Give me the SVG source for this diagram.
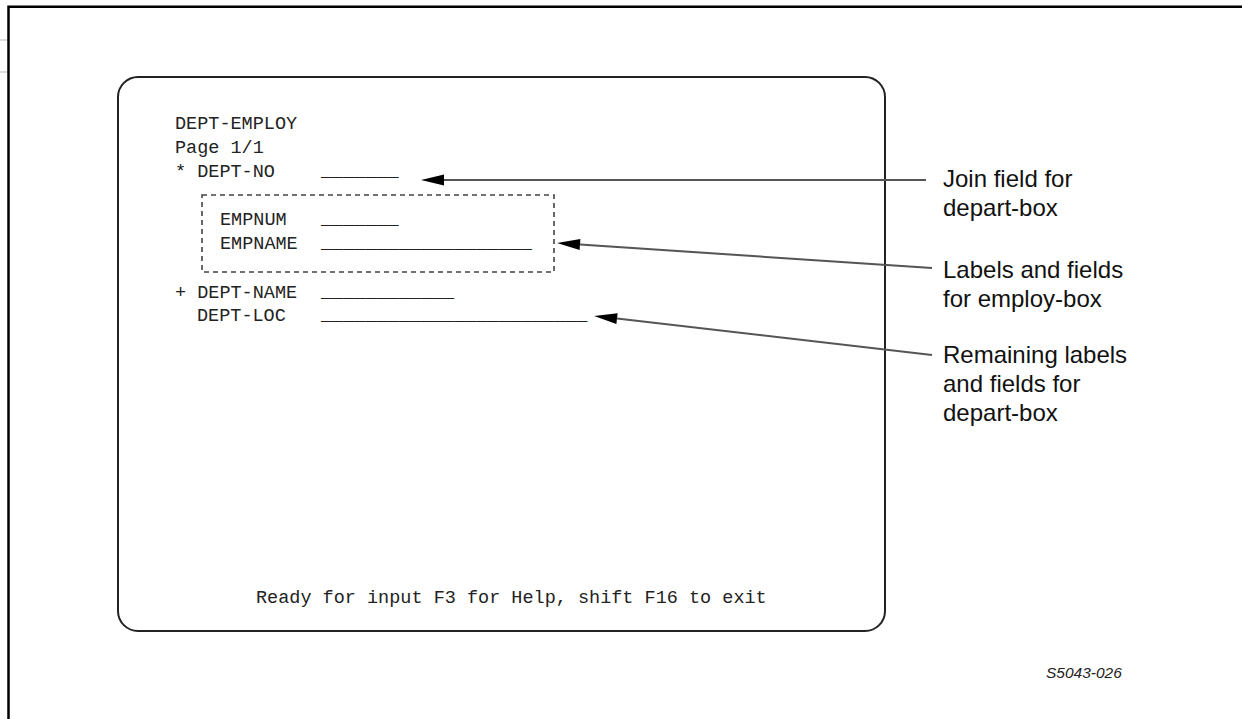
<svg xmlns="http://www.w3.org/2000/svg" width="1242" height="719" viewBox="0 0 1242 719">
  <style>
    .mono { font-family: "Liberation Mono", "DejaVu Sans Mono", monospace; font-size: 18.5px; fill: #222; }
    .note { font-family: "Liberation Sans", Arial, sans-serif; font-size: 24px; fill: #111; }
    .fig  { font-family: "Liberation Sans", Arial, sans-serif; font-size: 15.5px; font-style: italic; fill: #222; }
    .frame { stroke: #000; stroke-width: 2.5; fill: none; }
    .screen { stroke: #222; stroke-width: 2; fill: none; }
    .group-box { stroke: #444; stroke-width: 1.6; fill: none; stroke-dasharray: 5 4; }
    .leader { stroke: #555; stroke-width: 2; fill: none; marker-end: url(#head); }
  </style>
  <defs>
    <marker id="head" markerUnits="userSpaceOnUse" markerWidth="24" markerHeight="12" refX="0" refY="6" orient="auto" overflow="visible">
      <path d="M0,0.5 L23,6 L0,11.5 Z" fill="#000"/>
    </marker>
  </defs>

  <rect width="1242" height="719" fill="#fff"/>

  <!-- page frame -->
  <g id="page-frame">
    <path class="frame" d="M8.5,719 V6.7 H1242"/>
    <line x1="0" y1="40" x2="7" y2="40" stroke="#bbb" stroke-width="1"/>
    <line x1="0" y1="72" x2="7" y2="72" stroke="#bbb" stroke-width="1"/>
  </g>

  <!-- terminal screen -->
  <g id="screen">
    <rect class="screen" x="118" y="77" width="767" height="554" rx="20" ry="20"/>
    <text class="mono" x="175" y="129">DEPT-EMPLOY</text>
    <text class="mono" x="175" y="153">Page 1/1</text>
    <text class="mono" x="256" y="603">Ready for input F3 for Help, shift F16 to exit</text>
  </g>

  <!-- depart-box join field -->
  <g id="join-field">
    <text class="mono" x="175" y="177">* DEPT-NO</text>
    <text class="mono" x="321" y="175.5">_______</text>
  </g>

  <!-- employ-box group -->
  <g id="employ-box">
    <rect class="group-box" x="202" y="195" width="352" height="77"/>
    <text class="mono" x="220" y="225">EMPNUM</text>
    <text class="mono" x="321" y="223.5">_______</text>
    <text class="mono" x="220" y="249">EMPNAME</text>
    <text class="mono" x="321" y="247.5">___________________</text>
  </g>

  <!-- remaining depart-box fields -->
  <g id="depart-fields">
    <text class="mono" x="175" y="298">+ DEPT-NAME</text>
    <text class="mono" x="321" y="296.5">____________</text>
    <text class="mono" x="197" y="321">DEPT-LOC</text>
    <text class="mono" x="321" y="319.5">________________________</text>
  </g>

  <!-- callout notes -->
  <g id="note-join">
    <text class="note" x="943" y="187">Join field for</text>
    <text class="note" x="943" y="216">depart-box</text>
  </g>
  <g id="note-employ">
    <text class="note" x="943" y="278">Labels and fields</text>
    <text class="note" x="943" y="307">for employ-box</text>
  </g>
  <g id="note-remaining">
    <text class="note" x="943" y="363">Remaining labels</text>
    <text class="note" x="943" y="392">and fields for</text>
    <text class="note" x="943" y="421">depart-box</text>
  </g>

  <!-- leader arrows -->
  <g id="connectors">
    <line class="leader" x1="926" y1="180" x2="444" y2="180"/>
    <line class="leader" x1="932" y1="268" x2="580" y2="244.5"/>
    <line class="leader" x1="932" y1="355" x2="617" y2="318.6"/>
  </g>

  <g id="figure-id">
    <text class="fig" x="1046" y="678">S5043-026</text>
  </g>
</svg>
